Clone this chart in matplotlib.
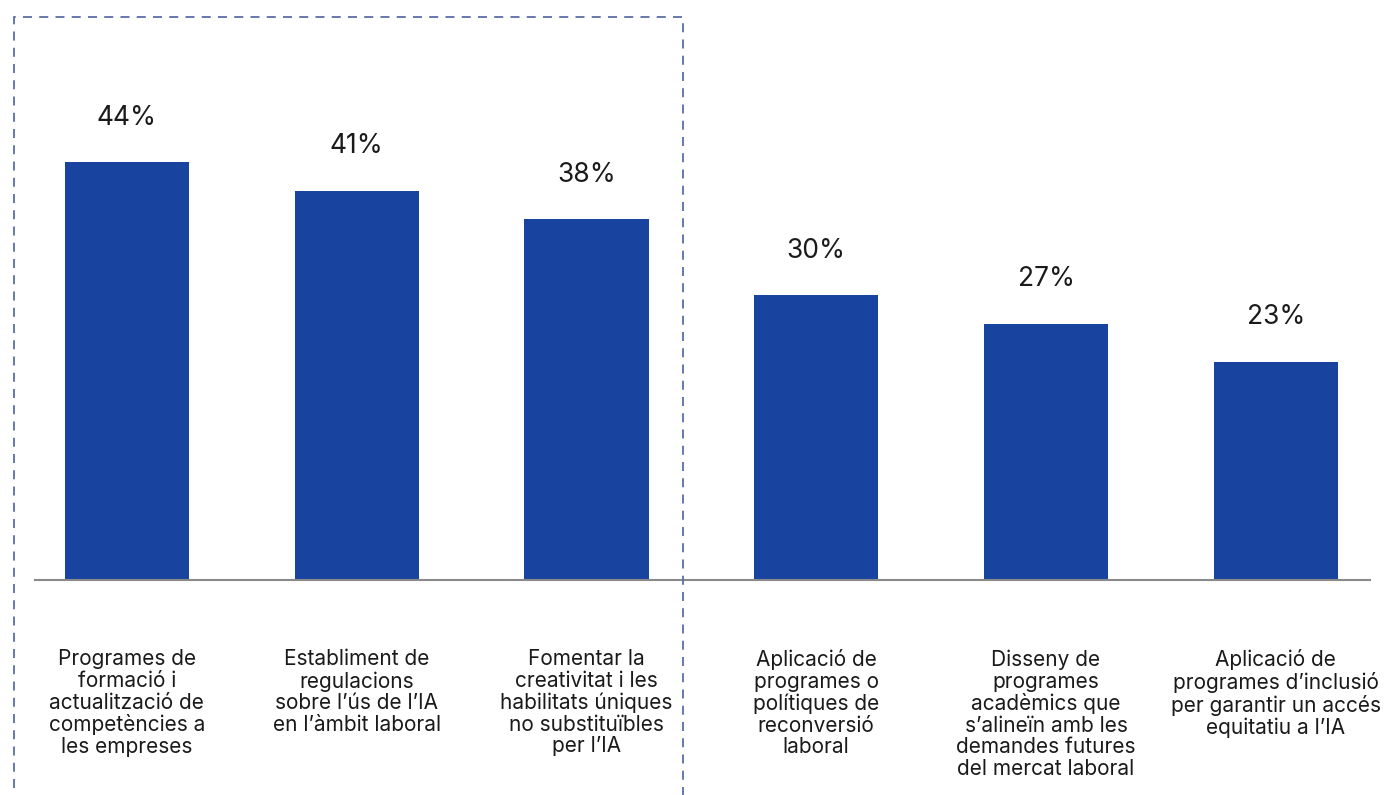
import matplotlib.pyplot as plt
from matplotlib.patches import Rectangle

plt.rcParams["font.family"] = ["Inter", "DejaVu Sans"]

# data
categories = [
    "Programes de\nformació i\nactualització de\ncompetències a\nles empreses",
    "Establiment de\nregulacions\nsobre l’ús de l’IA\nen l’àmbit laboral",
    "Fomentar la\ncreativitat i les\nhabilitats úniques\nno substituïbles\nper l’IA",
    "Aplicació de\nprogrames o\npolítiques de\nreconversió\nlaboral",
    "Disseny de\nprogrames\nacadèmics que\ns’alineïn amb les\ndemandes futures\ndel mercat laboral",
    "Aplicació de\nprogrames d’inclusió\nper garantir un accés\nequitatiu a l’IA",
]
values = [44, 41, 38, 30, 27, 23]

bar_color = "#1844a0"
text_color = "#1a1a1a"
W, H = 1400, 795

fig = plt.figure(figsize=(W / 100, H / 100), dpi=100)
ax = fig.add_axes([35 / W, (H - 580) / H, (1370 - 35) / W, (580 - 17) / H])

x = range(len(values))
ax.bar(x, values, width=0.54, color=bar_color, zorder=2)
ax.set_xlim(-0.4, 5.41)
ax.set_ylim(0, 563 / 9.5)

for i, v in enumerate(values):
    ax.annotate(f"{v}%", (i, v), xytext=(0, 32), textcoords="offset points",
                ha="center", va="center", fontsize=19, color=text_color)
    ax.annotate(categories[i], (i, 0), xytext=(0, -50), textcoords="offset points",
                ha="center", va="top", fontsize=15, color=text_color,
                linespacing=1.1)

for s in ["top", "right", "left"]:
    ax.spines[s].set_visible(False)
ax.spines["bottom"].set_color("#8a8a8a")
ax.spines["bottom"].set_linewidth(1.5)
ax.set_xticks([])
ax.set_yticks([])

# dashed highlight box around the first three bars
box = Rectangle((14 / W, -0.05), (683 - 14) / W, 1.05 - 17 / H,
                transform=fig.transFigure, fill=False, edgecolor="#5b6ea6",
                linewidth=1.3, linestyle=(0, (5, 4)), clip_on=False)
fig.patches.append(box)

fig.savefig("out.png", dpi=100)
